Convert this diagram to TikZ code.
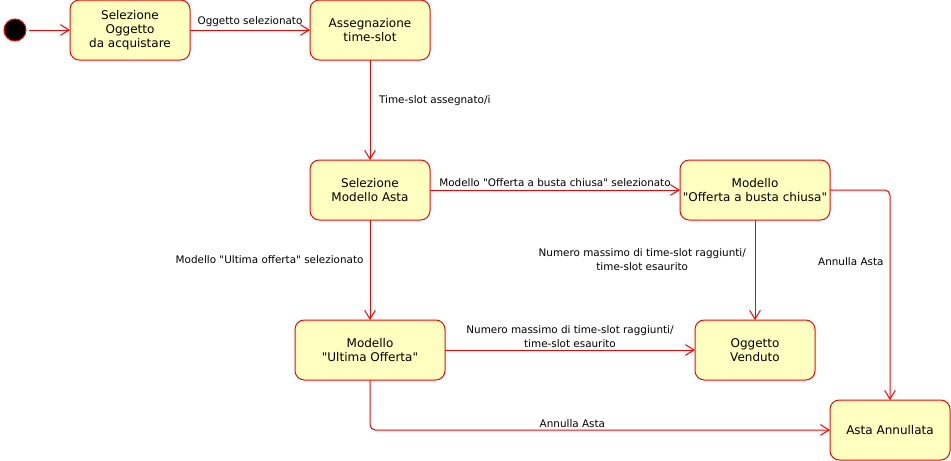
\documentclass[tikz,border=0pt]{standalone}
\usepackage{fontspec}
\setmainfont{DejaVu Sans}[Ligatures=TeXOff]
\usetikzlibrary{positioning}
\usetikzlibrary{arrows.meta}

\definecolor{statefill}{HTML}{FFFFC0}
\tikzset{
  state/.style={draw=red, fill=statefill, rounded corners=7pt, line width=0.75pt,
    minimum width=90pt, minimum height=45pt, align=center, inner sep=0pt, outer sep=0pt,
    font=\fontsize{9}{10.4}\selectfont},
  wide/.style={minimum width=112.5pt},
  initstate/.style={circle, draw=red, fill=black, minimum size=16.5pt, inner sep=0pt, line width=0.75pt},
  trans/.style={draw=red, line width=0.75pt, -{Straight Barb[length=6.5pt,width=8pt]}},
  lbl/.style={font=\fontsize{7.8}{10.5}\selectfont, align=center, inner sep=1.5pt}
}

\begin{document}
\begin{tikzpicture}[x=0.75pt, y=-0.75pt]
      \useasboundingbox (0,0) rectangle (951,461);
      \node[state] (oggetto) at (130,30) {Selezione\\Oggetto\\da acquistare};
      \node[initstate] (init) at (15,30) {};
      \node[state, right=90pt of oggetto] (slot) {Assegnazione\\time-slot};
      \node[state, below=75pt of slot] (modello) {Selezione\\Modello Asta};
      \node[state, wide, right=187.5pt of modello] (busta) {Modello\\"Offerta a busta chiusa"};
      \node[state, wide, below=75pt of modello] (ultima) {Modello\\"Ultima Offerta"};
      \node[state, below=75pt of busta] (venduto) {Oggetto\\Venduto};
      \node[state, below right=15pt and 11.25pt of venduto] (annullata) {Asta Annullata};

      \draw[trans, shorten <=2pt] (init) -- (oggetto);
      \draw[trans] (oggetto) -- node[lbl, above, yshift=1pt] {Oggetto selezionato} (slot);
      \draw[trans] (slot) -- node[lbl, right, pos=.41, xshift=5pt] {Time-slot assegnato/i} (modello);
      \draw[trans] (modello) -- node[lbl, above, yshift=1pt] {Modello "Offerta a busta chiusa" selezionato} (busta);
      \draw[trans] (modello) -- node[lbl, left, pos=.4, xshift=-3pt] {Modello "Ultima offerta" selezionato} (ultima);
      \draw[trans] (busta) -- node[lbl, left, pos=.4, xshift=-5pt] {Numero massimo di time-slot raggiunti/\\time-slot esaurito} (venduto);
      \draw[trans] (ultima) -- node[lbl, above] {Numero massimo di time-slot raggiunti/\\time-slot esaurito} (venduto);
      \draw[trans, rounded corners=4pt] (busta) -| node[lbl, left, pos=.67, xshift=-3pt] {Annulla Asta} (annullata);
      \draw[trans, rounded corners=4pt] (ultima) |- node[lbl, above, pos=.72] {Annulla Asta} (annullata);
    \end{tikzpicture}
\end{document}
